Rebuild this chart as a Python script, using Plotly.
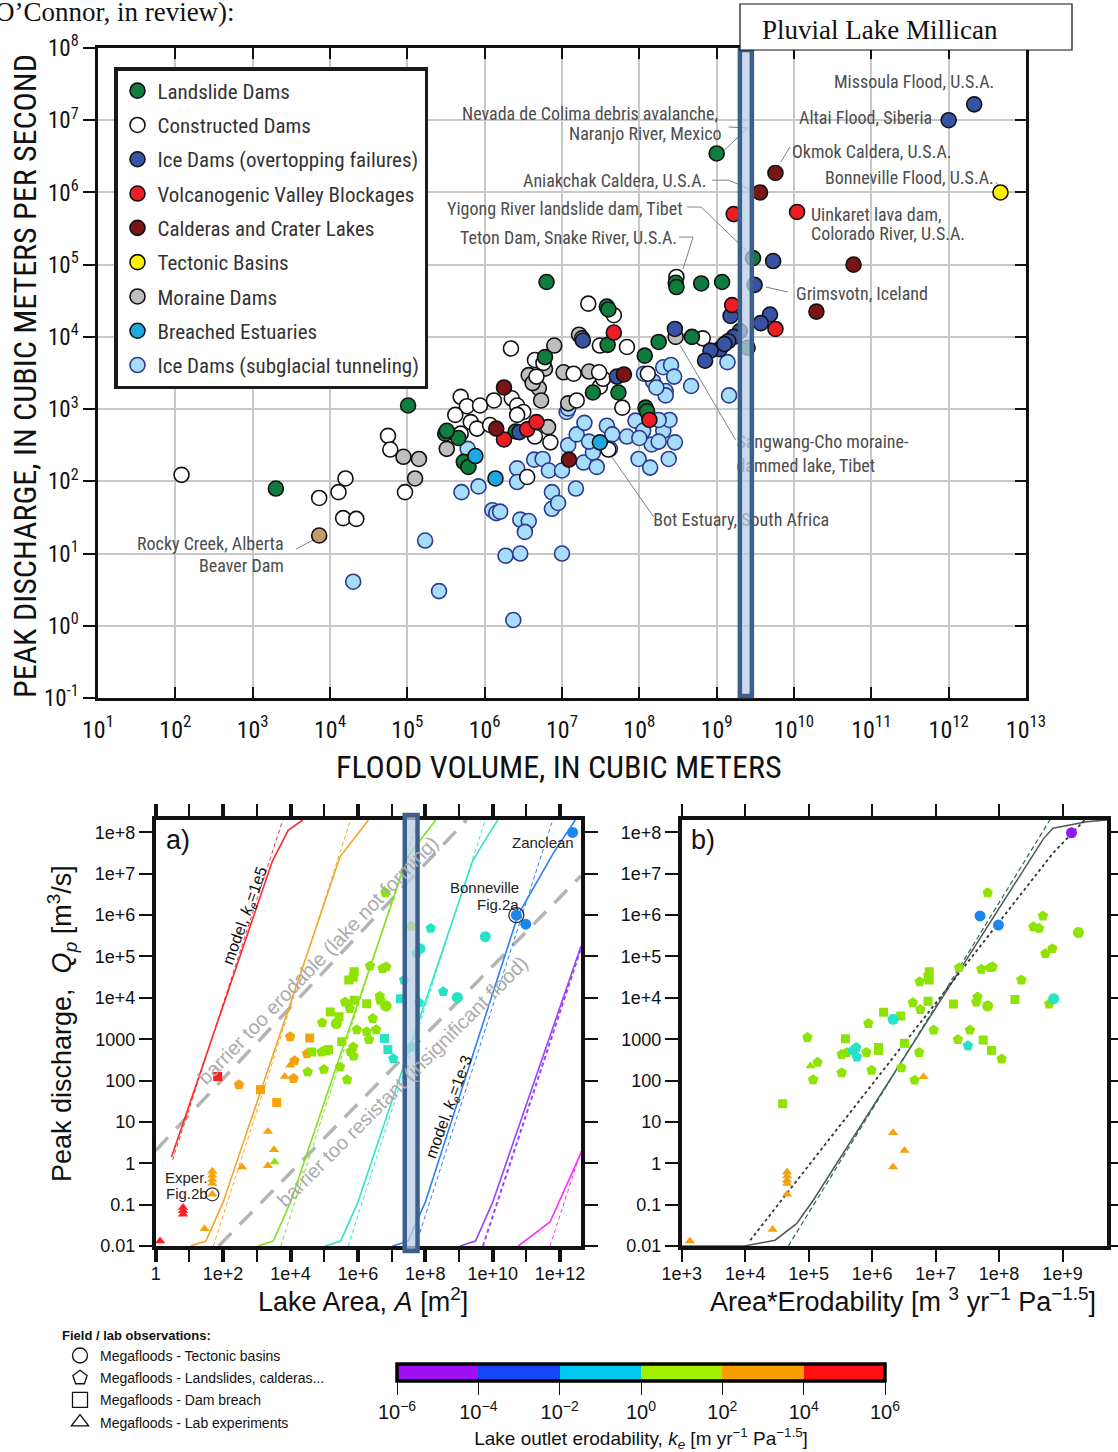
import numpy as np
import plotly.graph_objects as go

W, H = 1118, 1452
NARROW = "Liberation Sans Narrow, Arial Narrow, Roboto Condensed, Liberation Sans, sans-serif"
SANS = "Liberation Sans, Arial, sans-serif"
SERIF = "Liberation Serif, Times New Roman, serif"

# ---------------- TOP CHART DATA: (log10 flood volume [m3], log10 peak discharge [m3/s])
landslide = [(3.30,1.90),(5.01,3.05),(5.49,2.66),(5.66,2.60),(5.51,2.70),(5.73,2.27),(5.79,2.20),
             (6.40,2.69),(6.78,3.72),(6.80,4.76),(7.40,3.23),(7.73,3.23),(8.08,3.02),(8.10,2.97),
             (7.58,4.42),(7.60,4.38),(7.59,3.89),(8.25,3.93),(8.07,3.74),(8.68,4.00),(8.47,4.75),
             (8.48,4.69),(8.80,4.74),(9.07,4.76),(9.00,6.54),(9.47,5.09),(9.40,3.85)]
constructed = [(2.08,2.09),(3.86,1.77),(4.20,2.04),(4.11,1.85),(4.17,1.49),(4.34,1.48),(4.75,2.63),
               (4.78,2.44),(4.97,1.85),(5.69,3.17),(5.77,3.04),(5.94,3.05),(6.12,3.12),(6.35,3.15),
               (6.42,3.05),(6.50,2.96),(5.62,2.92),(5.82,2.82),(5.90,2.73),(5.69,2.66),(6.65,2.62),
               (6.85,2.54),(6.55,2.06),(7.60,2.44),(7.78,3.02),(7.49,3.31),(7.53,3.42),(7.48,3.51),
               (7.15,3.49),(7.19,3.12),(6.65,3.68),(6.76,3.64),(6.67,3.45),(6.34,3.84),(7.34,4.46),
               (7.67,4.30),(7.49,3.88),(7.84,3.86),(8.82,3.98),(8.48,4.83),(8.11,3.49),(6.07,2.78),
               (6.42,2.92)]
ice_overtop = [(12.33,7.22),(12.00,7.00),(9.73,5.05),(9.49,4.72),(9.18,4.29),(9.69,4.31),(9.57,4.19),
               (9.30,4.08),(9.22,4.00),(9.15,3.94),(9.04,3.83),(8.92,3.81),(8.85,3.67),(8.46,4.11),
               (7.27,3.95),(7.71,3.45),(6.45,2.68),(9.10,3.90)]
volcanic = [(9.22,5.70),(10.04,5.73),(9.20,4.44),(9.76,4.11),(7.67,4.06),(8.13,2.85),(6.25,2.58),
            (6.55,2.72),(6.67,2.82)]
caldera = [(9.76,6.27),(9.56,6.00),(10.77,5.00),(10.29,4.35),(6.25,3.30),(6.15,2.73),(7.09,2.30),
           (7.80,3.48)]
tectonic = [(12.67,6.00)]
moraine = [(4.95,2.34),(5.15,2.31),(5.10,2.04),(5.51,2.45),(6.57,3.47),(6.70,3.29),(6.73,3.12),
           (6.78,3.56),(6.90,3.88),(7.02,3.51),(7.35,3.52),(7.08,3.08),(7.22,4.03),(6.82,2.75),
           (8.47,4.00),(6.62,3.36),(7.26,3.98)]
estuary = [(5.88,2.35),(6.14,2.04),(7.49,2.54)]
subglacial = [(4.30,0.61),(5.23,1.18),(5.41,0.48),(6.37,0.08),(5.70,1.85),(5.92,1.93),(6.10,1.60),
              (6.15,1.56),(6.20,1.58),(6.46,1.47),(6.57,1.45),(6.52,1.30),(6.27,0.97),(6.46,1.00),
              (7.00,1.00),(6.42,2.18),(6.42,1.99),(6.64,2.30),(6.75,2.31),(6.83,2.15),(6.87,1.85),
              (6.87,1.62),(6.95,1.70),(7.18,1.90),(7.00,2.15),(7.08,2.50),(7.19,2.65),(7.29,2.81),
              (7.28,2.26),(7.40,2.40),(7.58,2.77),(7.65,2.65),(7.84,2.62),(7.95,2.84),(7.99,2.31),
              (8.14,2.19),(8.16,2.51),(8.31,2.70),(8.38,2.31),(8.46,2.54),(8.39,2.85),(8.25,2.55),
              (8.05,2.70),(7.06,2.96),(7.08,3.01),(8.31,3.58),(8.41,3.61),(8.18,3.38),(8.34,3.25),
              (8.34,3.19),(8.06,3.49),(8.67,3.32),(9.14,3.65),(9.16,3.19),(8.22,3.30),(8.45,3.45),
              (5.78,2.45),(7.45,2.20),(7.62,2.45),(8.00,2.60),(7.35,2.55),(8.25,2.85)]
beaver = [(3.86,1.25)]
millican_log_volume = (9.30, 9.455)

# leader lines (log10 volume, log10 discharge)
leaders = [
    [(9.153,6.906),(9.399,6.892),(9.088,6.573)],
    [(9.946,6.629),(9.830,6.42)],
    [(8.94,6.17),(9.153,6.17),(9.457,6.033)],
    [(8.617,5.798),(8.798,5.798),(9.378,5.202)],
    [(8.513,5.382),(8.694,5.382),(8.565,4.939)],
    [(9.638,4.690),(9.922,4.621)],
    [(8.526,3.886),(9.246,2.571)],
    [(7.582,2.432),(8.185,1.508)],
    [(3.560,1.061),(3.828,1.213)],
    [(12.615,6.14),(12.64,6.09)],
]

# ---------------- PANEL a / b DATA
# (log10 lake area, log10 peak discharge, log10 erodability class, type)
# type: T=tectonic basin, L=landslide/caldera, D=dam breach, E=lab experiment
panel_a = [
    (1.84,2.10,5,'D'),(0.81,-1.07,5,'E'),(0.81,-1.15,5,'E'),(0.81,-1.23,5,'E'),(0.13,-1.88,5,'E'),
    (2.47,1.90,3,'L'),(3.11,1.78,3,'D'),(3.59,1.47,3,'D'),(3.99,3.06,3,'L'),(4.57,3.03,3,'D'),
    (4.49,2.65,3,'L'),(4.12,2.48,3,'L'),(4.09,2.05,3,'L'),(3.83,2.10,3,'E'),(3.99,2.37,3,'E'),
    (3.33,0.77,3,'E'),(3.51,0.33,3,'E'),(3.33,-0.06,3,'E'),(2.56,-0.09,3,'E'),(1.45,-1.58,3,'E'),
    (1.68,-0.19,3,'E'),(1.68,-0.29,3,'E'),(1.68,-0.39,3,'E'),(1.68,-0.49,3,'E'),(1.68,-0.75,3,'E'),
    (3.53,0.03,1,'E'),(6.82,6.54,1,'L'),(7.58,5.73,1,'L'),(4.63,2.69,1,'D'),(4.51,2.21,1,'L'),
    (4.99,2.27,1,'L'),(4.94,3.40,1,'L'),(4.92,2.69,1,'L'),(5.13,2.75,1,'D'),(5.18,3.66,1,'D'),
    (5.44,3.54,1,'D'),(5.52,2.94,1,'D'),(5.36,3.38,1,'T'),(5.47,2.33,1,'L'),(5.68,2.02,1,'L'),
    (5.62,3.90,1,'L'),(5.76,3.74,1,'L'),(5.73,4.43,1,'D'),(5.89,4.63,1,'D'),(5.89,3.94,1,'D'),
    (5.86,4.50,1,'D'),(5.86,2.81,1,'L'),(5.78,2.70,1,'L'),(5.87,2.59,1,'L'),(5.97,3.23,1,'L'),
    (6.26,3.86,1,'D'),(6.26,3.18,1,'L'),(6.33,2.99,1,'L'),(6.44,3.50,1,'L'),(6.54,3.23,1,'L'),
    (6.36,4.77,1,'L'),(6.73,4.71,1,'L'),(6.84,4.75,1,'L'),(6.65,4.04,1,'L'),(6.66,3.94,1,'L'),
    (6.79,3.82,1,'L'),(6.84,3.80,1,'T'),(5.05,2.72,1,'D'),
    (7.58,2.81,-1,'L'),(7.26,3.98,-1,'D'),(6.79,3.02,-1,'D'),(6.89,2.75,-1,'D'),(7.05,2.53,-1,'L'),
    (7.37,4.43,-1,'L'),(7.84,5.19,-1,'T'),(7.74,5.07,-1,'L'),(8.16,5.68,-1,'L'),(7.81,3.88,-1,'L'),
    (8.53,4.15,-1,'L'),(8.95,4.01,-1,'T'),(9.78,5.48,-1,'T'),
    (10.70,6.00,-3,'T'),(10.98,5.78,-3,'T'),(12.37,8.00,-3,'T'),
]
# (log10 area*erodability, log10 peak discharge, log10 erodability class, type)
panel_b = [
    (9.14,7.99,-5,'T'),(7.70,5.98,-3,'T'),(7.99,5.76,-3,'T'),
    (7.82,6.54,1,'L'),(8.69,5.98,1,'L'),(8.54,5.72,1,'L'),(8.63,5.68,1,'L'),(9.25,5.58,1,'T'),
    (8.84,5.19,1,'L'),(8.73,5.07,1,'L'),(7.37,4.73,1,'L'),(7.72,4.69,1,'L'),(7.86,4.73,1,'L'),
    (7.90,4.75,1,'L'),(8.35,4.43,1,'L'),(6.90,4.63,1,'D'),(6.90,4.43,1,'D'),(6.88,4.50,1,'D'),
    (6.75,4.39,1,'L'),(7.66,4.02,1,'L'),(7.64,3.90,1,'L'),(7.82,3.80,1,'T'),(8.25,3.96,1,'D'),
    (7.28,3.85,1,'D'),(8.79,3.85,1,'L'),(6.88,3.92,1,'D'),(6.64,3.88,1,'L'),(6.76,3.72,1,'L'),
    (6.18,3.65,1,'D'),(6.45,3.56,1,'D'),(5.94,3.38,1,'L'),(6.97,3.22,1,'L'),(7.54,3.22,1,'L'),
    (4.98,3.04,1,'L'),(5.58,3.01,1,'D'),(6.51,2.90,1,'D'),(7.35,2.99,1,'L'),(7.75,2.98,1,'D'),
    (6.10,2.80,1,'D'),(6.10,2.73,1,'D'),(5.60,2.68,1,'L'),(5.52,2.63,1,'L'),(5.91,2.68,1,'L'),
    (7.88,2.73,1,'D'),(6.74,2.68,1,'L'),(5.14,2.44,1,'L'),(5.03,2.35,1,'E'),(5.52,2.19,1,'L'),
    (5.99,2.25,1,'L'),(6.46,2.31,1,'L'),(8.04,2.52,1,'L'),(5.07,2.02,1,'L'),(6.67,2.01,1,'L'),
    (4.59,1.44,1,'D'),
    (8.86,3.98,-1,'T'),(6.33,3.48,-1,'T'),(7.51,2.84,-1,'L'),(5.75,2.80,-1,'L'),(5.69,2.72,-1,'L'),
    (5.76,2.57,-1,'L'),
    (6.81,2.09,3,'E'),(6.33,0.74,3,'E'),(6.51,0.31,3,'E'),(6.33,-0.09,3,'E'),(4.66,-0.21,3,'E'),
    (4.66,-0.31,3,'E'),(4.66,-0.41,3,'E'),(4.66,-0.49,3,'E'),(4.66,-0.75,3,'E'),(4.43,-1.60,3,'E'),
    (3.13,-1.88,3,'E'),
]
bonneville_a = (10.70, 6.00)
exper_a = (1.68, -0.75)

# model curves in panel a (log10 A, log10 Qp); keyed by log10 ke
model_ke = [5, 3, 1, -1, -3, -5, -7]
model_solid = {
    5: [(0.47,0.15),(3.46,7.30),(3.93,8.05),(4.36,8.30)],
    3: [(1.03,-2.0),(1.49,-1.88),(2.00,-0.94),(5.47,7.41),(5.89,7.85),(6.31,8.30)],
    1: [(3.03,-2.0),(3.49,-1.88),(4.00,-0.94),(7.47,7.41),(7.89,7.85),(8.31,8.30)],
    -1: [(5.03,-2.0),(5.49,-1.88),(6.00,-0.94),(9.40,7.30),(9.80,7.85),(10.15,8.30)],
    -3: [(7.03,-2.0),(7.49,-1.88),(8.00,-0.94),(10.75,6.00),(11.80,7.50),(12.45,8.30)],
    -5: [(9.03,-2.0),(9.49,-1.88),(10.00,-0.94),(12.62,5.25)],
    -7: [(10.76,-2.0),(11.70,-1.42),(12.62,0.25)],
}
model_dashed = {
    5: [(0.50,0.08),(3.77,8.30)],
    3: [(1.71,-2.0),(5.78,8.30)],
    1: [(3.71,-2.0),(7.78,8.30)],
    -1: [(5.71,-2.0),(9.78,8.30)],
    -3: [(7.71,-2.0),(11.78,8.30)],
    -5: [(9.71,-2.0),(12.62,5.20)],
    -7: [(11.70,-2.0),(12.62,0.30)],
}
barrier_upper = [(0.0,0.31),(9.22,8.30)]
barrier_lower = [(1.87,-2.0),(12.62,6.95)]
millican_log_area = (7.39, 7.77)

# panel b curves (log10 A*ke, log10 Qp)
b_model = [(3.0,-2.0),(3.99,-2.0),(4.47,-1.86),(4.81,-1.46),(5.07,-0.90),(8.70,7.85),(8.85,8.10),(9.38,8.26),(9.70,8.30)]
b_fit_dotted = [(4.08,-1.86),(8.85,7.50),(9.35,8.30)]
b_fit_dashed = [(4.68,-2.0),(8.80,8.30)]

# colour bar
cbar_log_ke = [-6, -4, -2, 0, 2, 4, 6]

# ---------------- helpers
def L(pairs):
    a = np.array(pairs, dtype=float)
    return 10 ** a[:, 0], 10 ** a[:, 1]

def ann(text, px, py, size, family=NARROW, color="#4d4d4d", xanchor="left", yanchor="middle", angle=0):
    return dict(text=text, x=px / W, y=1 - py / H, xref="paper", yref="paper", xanchor=xanchor,
                yanchor=yanchor, showarrow=False, textangle=angle,
                font=dict(family=family, size=size, color=color))

fig = go.Figure()

# ---------------- TOP CHART
top_cats = {
    "Landslide Dams": (landslide, "#0f7d3d", "#111111", 1),
    "Constructed Dams": (constructed, "#ffffff", "#111111", 2),
    "Ice Dams (overtopping failures)": (ice_overtop, "#3853a3", "#111111", 3),
    "Volcanogenic Valley Blockages": (volcanic, "#ee1c25", "#111111", 4),
    "Calderas and Crater Lakes": (caldera, "#7a1416", "#111111", 5),
    "Tectonic Basins": (tectonic, "#fff200", "#111111", 6),
    "Moraine Dams": (moraine, "#bebebe", "#111111", 7),
    "Breached Estuaries": (estuary, "#1ea8e0", "#111111", 8),
    "Ice Dams (subglacial tunneling)": (subglacial, "#a6ddf8", "#2b3990", 9),
}
draw_order = ["Ice Dams (subglacial tunneling)", "Moraine Dams", "Constructed Dams", "Landslide Dams",
              "Breached Estuaries", "Ice Dams (overtopping failures)", "Volcanogenic Valley Blockages",
              "Calderas and Crater Lakes", "Tectonic Basins"]

for ld in leaders:
    x, y = L(ld)
    fig.add_trace(go.Scatter(x=x, y=y, mode="lines", line=dict(color="#808080", width=1),
                             showlegend=False, hoverinfo="skip", xaxis="x", yaxis="y"))

for name in draw_order:
    pts, fill, edge, rank = top_cats[name]
    x, y = L(pts)
    fig.add_trace(go.Scatter(x=x, y=y, mode="markers", name=name, legend="legend",
                             legendrank=rank, legendgroup=name,
                             marker=dict(size=15, color=fill, line=dict(color=edge, width=1.6)),
                             xaxis="x", yaxis="y"))
x, y = L(beaver)
fig.add_trace(go.Scatter(x=x, y=y, mode="markers", showlegend=False,
                         marker=dict(size=15, color="#c49a6c", line=dict(color="#111", width=1.6)),
                         xaxis="x", yaxis="y"))

# labels partly hidden by the Millican bar (real text, drawn as text marks)
fig.add_trace(go.Scatter(x=[10 ** 9.255, 10 ** 8.18], y=[10 ** 2.36, 10 ** 1.44], mode="text",
                         text=["Sangwang-Cho moraine-<br>dammed lake, Tibet", "Bot Estuary, South Africa"],
                         textposition="middle right",
                         textfont=dict(family=NARROW, size=18, color="#4d4d4d"),
                         showlegend=False, hoverinfo="skip", xaxis="x", yaxis="y"))

# dummy for right-side inside ticks
fig.add_trace(go.Scatter(x=[None], y=[None], xaxis="x", yaxis="y4", showlegend=False, hoverinfo="skip"))

# ---------------- PANEL a
line_col = {5: "#ff2a2a", 3: "#f5a428", 1: "#7ee31a", -1: "#2ee6c8", -3: "#2a80f2", -5: "#9b42ff", -7: "#ff2eff"}
pt_col = {5: "#ff1e1e", 3: "#f5a20c", 1: "#8ee400", -1: "#25e3c6", -3: "#1b86f2", -5: "#8a1cf2"}
SYM = {"T": "circle", "L": "pentagon", "D": "square", "E": "triangle-up"}
SZ = {"T": 11, "L": 11, "D": 9, "E": 9}

for seg in (barrier_upper, barrier_lower):
    x, y = L(seg)
    fig.add_trace(go.Scatter(x=x, y=y, mode="lines", line=dict(color="#b4b4b4", width=3.5, dash="18px,12px"),
                             showlegend=False, hoverinfo="skip", xaxis="x2", yaxis="y2"))

for k in model_ke:
    x, y = L(model_dashed[k])
    fig.add_trace(go.Scatter(x=x, y=y, mode="lines",
                             line=dict(color=line_col[k], width=2 if k == -5 else 1, dash="4px,3px"),
                             showlegend=False, hoverinfo="skip", xaxis="x2", yaxis="y2"))
    x, y = L(model_solid[k])
    fig.add_trace(go.Scatter(x=x, y=y, mode="lines", line=dict(color=line_col[k], width=1.6),
                             showlegend=False, hoverinfo="skip", xaxis="x2", yaxis="y2"))

def add_points(data, xa, ya):
    groups = {}
    for lx, ly, ke, t in data:
        groups.setdefault((ke, t), []).append((lx, ly))
    for (ke, t), pts in groups.items():
        x, y = L(pts)
        fig.add_trace(go.Scatter(x=x, y=y, mode="markers", showlegend=False,
                                 marker=dict(symbol=SYM[t], size=SZ[t], color=pt_col[ke], line=dict(width=0)),
                                 xaxis=xa, yaxis=ya))

add_points(panel_a, "x2", "y2")
x, y = L([bonneville_a])
fig.add_trace(go.Scatter(x=x, y=y, mode="markers", showlegend=False,
                         marker=dict(symbol="circle-open", size=15, color="#333", line=dict(width=1.3)),
                         xaxis="x2", yaxis="y2"))
x, y = L([exper_a])
fig.add_trace(go.Scatter(x=x, y=y, mode="markers", showlegend=False,
                         marker=dict(symbol="circle-open", size=13, color="#333", line=dict(width=1.2)),
                         xaxis="x2", yaxis="y2"))

# ---------------- PANEL b
x, y = L(b_model)
fig.add_trace(go.Scatter(x=x, y=y, mode="lines", line=dict(color="#555555", width=1.5),
                         showlegend=False, hoverinfo="skip", xaxis="x3", yaxis="y3"))
x, y = L(b_fit_dotted)
fig.add_trace(go.Scatter(x=x, y=y, mode="lines", line=dict(color="#333333", width=1.8, dash="dot"),
                         showlegend=False, hoverinfo="skip", xaxis="x3", yaxis="y3"))
x, y = L(b_fit_dashed)
fig.add_trace(go.Scatter(x=x, y=y, mode="lines", line=dict(color="#2e6b5c", width=1.2, dash="5px,3px"),
                         showlegend=False, hoverinfo="skip", xaxis="x3", yaxis="y3"))
add_points(panel_b, "x3", "y3")

# ---------------- bottom legend (symbols)
for i, (sym, lab) in enumerate([("circle-open", "Megafloods - Tectonic basins"),
                                 ("pentagon-open", "Megafloods - Landslides, calderas..."),
                                 ("square-open", "Megafloods - Dam breach"),
                                 ("triangle-up-open", "Megafloods - Lab experiments")]):
    fig.add_trace(go.Scatter(x=[None], y=[None], mode="markers", name=lab, legend="legend2",
                             legendgroup="g2_%d" % i, legendrank=i + 1,
                             marker=dict(symbol=sym, size=15, color="#111", line=dict(width=1.3)),
                             xaxis="x3", yaxis="y3"))

# ---------------- colour bar
cb_colors = ["#a010f5", "#1448f5", "#00c8f0", "#a0f000", "#f5a000", "#ff1010"]
cscale = []
for i, c in enumerate(cb_colors):
    cscale += [[i / 6, c], [(i + 1) / 6, c]]
fig.add_trace(go.Scatter(
    x=[None], y=[None], mode="markers", showlegend=False, xaxis="x3", yaxis="y3",
    marker=dict(color=[0], cmin=-6, cmax=6, colorscale=cscale, showscale=True,
                colorbar=dict(orientation="h", x=641 / W, xanchor="center", y=1 - 1364 / H, yanchor="top",
                              len=488, lenmode="pixels", thickness=17, thicknessmode="pixels",
                              outlinewidth=3.5, outlinecolor="black", xpad=0, ypad=0,
                              tickvals=cbar_log_ke,
                              ticktext=["10<sup>−6</sup>", "10<sup>−4</sup>", "10<sup>−2</sup>", "10<sup>0</sup>",
                                        "10<sup>2</sup>", "10<sup>4</sup>", "10<sup>6</sup>"],
                              ticks="outside", ticklen=13, tickwidth=1, tickcolor="#111",
                              tickfont=dict(family=SANS, size=20, color="#111"),
                              title=dict(text="Lake outlet erodability, <i>k<sub>e</sub></i> [m yr<sup>−1</sup> Pa<sup>−1.5</sup>]",
                                         side="bottom", font=dict(family=SANS, size=19, color="#111"))))))

# ---------------- shapes
shapes = [
    dict(type="rect", xref="x", yref="y domain", x0=10 ** millican_log_volume[0], x1=10 ** millican_log_volume[1],
         y0=0.003, y1=0.997, line=dict(color="#3d5f8c", width=4.5), fillcolor="rgba(185,205,229,0.75)",
         layer="above"),
    dict(type="rect", xref="x2", yref="paper", x0=10 ** millican_log_area[0], x1=10 ** millican_log_area[1],
         y0=1 - 1251 / H, y1=1 - 815 / H, line=dict(color="#3d5f8c", width=4.5),
         fillcolor="rgba(185,205,229,0.75)", layer="above"),
    dict(type="rect", xref="paper", yref="paper", x0=740 / W, x1=1072 / W, y0=1 - 50 / H, y1=1 - 4 / H,
         line=dict(color="#111", width=1.2), fillcolor="white", layer="above"),
]

# ---------------- annotations
anns = [
    ann("O’Connor, in review):", -7, 12, 27, family=SERIF, color="#111"),
    ann("Pluvial Lake Millican", 760, 30, 27, family=SERIF, color="#111"),
    ann("PEAK DISCHARGE, IN CUBIC METERS PER SECOND", 25, 376, 32, color="#111", xanchor="center", angle=-90),
    ann("FLOOD VOLUME, IN CUBIC METERS", 558, 767, 32, color="#111", xanchor="center"),
    ann("Missoula Flood, U.S.A.", 996, 82, 18, xanchor="right"),
    ann("Altai Flood, Siberia", 934, 118, 18, xanchor="right"),
    ann("Nevada de Colima debris avalanche,", 720, 114, 18, xanchor="right"),
    ann("Naranjo River, Mexico", 724, 133, 18, xanchor="right"),
    ann("Okmok Caldera, U.S.A.", 790, 152, 18),
    ann("Aniakchak Caldera, U.S.A.", 708, 180, 18, xanchor="right"),
    ann("Bonneville Flood, U.S.A.", 996, 178, 18, xanchor="right"),
    ann("Yigong River landslide dam, Tibet", 684, 208, 18, xanchor="right"),
    ann("Uinkaret lava dam,", 809, 215, 18),
    ann("Colorado River, U.S.A.", 809, 233, 18),
    ann("Teton Dam, Snake River, U.S.A.", 679, 238, 18, xanchor="right"),
    ann("Grimsvotn, Iceland", 794, 293, 18),
    ann("Rocky Creek, Alberta", 286, 543, 18, xanchor="right"),
    ann("Beaver Dam", 286, 565, 18, xanchor="right"),
    # panel a
    ann("a)", 178, 840, 27, family=SANS, color="#111", xanchor="center"),
    ann("Zanclean", 543, 842, 15, family=SANS, color="#222", xanchor="center"),
    ann("Bonneville", 484, 887, 15, family=SANS, color="#222", xanchor="center"),
    ann("Fig.2a", 498, 904, 15, family=SANS, color="#222", xanchor="center"),
    ann("Exper.", 163, 1177, 15, family=SANS, color="#222"),
    ann("Fig.2b", 164, 1193, 15, family=SANS, color="#222"),
    ann("model, <i>k<sub>e</sub></i>=1e5", 245, 916, 16, family=SANS, color="#111", xanchor="center", angle=-70),
    ann("model, <i>k<sub>e</sub></i>=1e-3", 449, 1107, 16, family=SANS, color="#111", xanchor="center", angle=-70),
    ann("barrier too erodable (lake not forming)", 318, 960, 20, family=SANS, color="#ababab",
        xanchor="center", angle=-46),
    ann("barrier too resistant (insignificant flood)", 403, 1081, 20, family=SANS, color="#ababab",
        xanchor="center", angle=-45),
    ann("Peak discharge,  <i>Q<sub>p</sub></i> [m<sup>3</sup>/s]", 62, 1024, 27, family=SANS, color="#111",
        xanchor="center", angle=-90),
    ann("Lake Area, <i>A</i> [m<sup>2</sup>]", 363, 1300, 27, family=SANS, color="#111", xanchor="center"),
    # panel b
    ann("b)", 703, 840, 27, family=SANS, color="#111", xanchor="center"),
    ann("Area*Erodability [m <sup>3</sup> yr<sup>−1</sup> Pa<sup>−1.5</sup>]", 903, 1300, 27, family=SANS,
        color="#111", xanchor="center"),
]

# ---------------- axes
top_xt = list(range(1, 14))
top_yt = list(range(-1, 9))
pa_y = list(range(-2, 9))
pa_ytext = ["0.01", "0.1", "1", "10", "100", "1000", "1e+4", "1e+5", "1e+6", "1e+7", "1e+8"]

fig.update_layout(
    template="none",
    width=W, height=H, autosize=False, margin=dict(l=0, r=0, t=0, b=0, pad=0, autoexpand=False),
    paper_bgcolor="white", plot_bgcolor="white",
    shapes=shapes, annotations=anns,
    xaxis=dict(type="log", range=[1, 13], domain=[98 / W, 1026 / W], anchor="y", automargin=False,
               tickvals=[10 ** k for k in top_xt], ticktext=["10<sup>%d</sup>" % k for k in top_xt],
               ticks="inside", ticklen=11, tickwidth=2, tickcolor="#111", mirror="ticks",
               showline=True, linewidth=2.5, linecolor="#111", showgrid=True, gridcolor="#c8c8c8",
               gridwidth=1.5, zeroline=False, tickfont=dict(family=NARROW, size=24, color="#111"),
               ticklabelstandoff=8),
    yaxis=dict(type="log", range=[-1, 8], domain=[1 - 698 / H, 1 - 48 / H], anchor="x", automargin=False,
               tickvals=[10 ** k for k in top_yt], ticktext=["10<sup>%d</sup>" % k for k in top_yt],
               ticks="outside", ticklen=12, tickwidth=2, tickcolor="#111", mirror=True,
               showline=True, linewidth=2.5, linecolor="#111", showgrid=True, gridcolor="#c8c8c8",
               gridwidth=1.5, zeroline=False, tickfont=dict(family=NARROW, size=23, color="#111")),
    yaxis4=dict(type="log", range=[-1, 8], overlaying="y", side="right", anchor="x", automargin=False,
                tickvals=[10 ** k for k in top_yt], ticks="inside", ticklen=11, tickwidth=2, tickcolor="#111",
                showticklabels=False, showgrid=False, showline=False, zeroline=False),
    xaxis2=dict(type="log", range=[0, 12.62], domain=[155.7 / W, 581 / W], anchor="y2", automargin=False,
                tickvals=[10 ** k for k in range(0, 13, 2)],
                ticktext=["1"] + ["1e+%d" % k for k in range(2, 13, 2)],
                ticks="outside", ticklen=12, tickwidth=3.5, tickcolor="#111", mirror="ticks",
                minor=dict(tickvals=[10 ** k for k in range(1, 13, 2)], ticks="outside", ticklen=12,
                           tickwidth=1.5, tickcolor="#111", showgrid=False),
                showline=True, linewidth=3.5, linecolor="#111", showgrid=False, zeroline=False,
                tickfont=dict(family=SANS, size=18, color="#111"), ticklabelstandoff=-3),
    yaxis2=dict(type="log", range=[-2, 8.3], domain=[1 - 1246 / H, 1 - 820 / H], anchor="x2", automargin=False,
                tickvals=[10 ** k for k in pa_y], ticktext=pa_ytext,
                ticks="outside", ticklen=13, tickwidth=1.5, tickcolor="#111", mirror="ticks",
                showline=True, linewidth=3.5, linecolor="#111", showgrid=False, zeroline=False,
                tickfont=dict(family=SANS, size=18, color="#111")),
    xaxis3=dict(type="log", range=[3, 9.70], domain=[681.7 / W, 1107 / W], anchor="y3", automargin=False,
                tickvals=[10 ** k for k in range(3, 10)], ticktext=["1e+%d" % k for k in range(3, 10)],
                ticks="outside", ticklen=12, tickwidth=1.5, tickcolor="#111", mirror="ticks",
                showline=True, linewidth=3.5, linecolor="#111", showgrid=False, zeroline=False,
                tickfont=dict(family=SANS, size=18, color="#111"), ticklabelstandoff=-3),
    yaxis3=dict(type="log", range=[-2, 8.3], domain=[1 - 1246 / H, 1 - 820 / H], anchor="x3", automargin=False,
                tickvals=[10 ** k for k in pa_y], ticktext=pa_ytext,
                ticks="outside", ticklen=13, tickwidth=1.5, tickcolor="#111", mirror="ticks",
                showline=True, linewidth=3.5, linecolor="#111", showgrid=False, zeroline=False,
                tickfont=dict(family=SANS, size=18, color="#111")),
    legend=dict(x=114 / W, y=1 - 67 / H, xanchor="left", yanchor="top", bgcolor="white",
                bordercolor="#1a1a1a", borderwidth=3.5, tracegroupgap=4,
                font=dict(family=NARROW, size=21, color="#333")),
    legend2=dict(x=60 / W, y=1 - 1323 / H, xanchor="left", yanchor="top", bgcolor="rgba(0,0,0,0)",
                 borderwidth=0, tracegroupgap=1, title=dict(text="<b>Field / lab observations:</b>",
                                                            font=dict(family=SANS, size=13, color="#111")),
                 font=dict(family=SANS, size=14, color="#111")),
    showlegend=True,
)

fig.write_html("out.html", post_script="document.body.style.margin='0';",
               config={"displayModeBar": False})
